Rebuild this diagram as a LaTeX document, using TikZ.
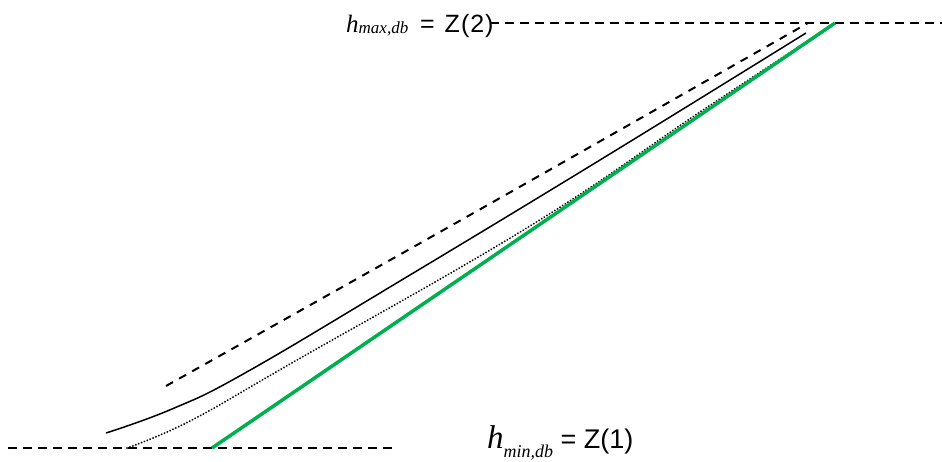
\documentclass[tikz,border=0pt]{standalone}
\usepackage{fontspec}
\setmainfont{Liberation Serif}
\setsansfont{Liberation Sans}
\definecolor{lvlgreen}{RGB}{0,176,80}
\begin{document}
\begin{tikzpicture}[x=1pt,y=-1pt,
  levelline/.style={line width=1.1pt,dash pattern=on 9pt off 6pt},
  curvedash/.style={line width=2pt,dash pattern=on 8pt off 7pt},
  curvesolid/.style={line width=1.5pt},
  curvedot/.style={line width=2pt,line cap=round,dash pattern=on 0.1pt off 3pt},
  greenline/.style={line width=3.5pt,lvlgreen},
  lbl/.style={anchor=base west,inner sep=0pt}]
\useasboundingbox (0,0) rectangle (942,461);
% level lines
\coordinate (tl) at (490,23);
\coordinate (tr) at (942,23);
\coordinate (bl) at (8,448);
\coordinate (br) at (395,448);
\draw[levelline] (tl) -- (tr);
\draw[levelline] (bl) -- (br);
% labels
\node[lbl] (hmax) at (346,32) {{\fontsize{25}{25}\selectfont\itshape h}\raisebox{-1.5pt}{\fontsize{17}{17}\selectfont\itshape max,db}\fontsize{25}{25}\selectfont\sffamily\hspace{5pt}\ =\hspace{3pt}\ Z\hspace{1pt}(\hspace{1pt}2\hspace{1pt})};
\node[lbl] (hmin) at (487,448) {{\fontsize{33}{33}\selectfont\itshape h}\raisebox{-9pt}{\fontsize{18}{18}\selectfont\itshape min,db}\fontsize{27}{27}\selectfont\sffamily\ = Z(1)};
% curves
\draw[curvedash] plot[smooth,tension=0.7] coordinates {(166,386) (470,215) (808,23)};
\draw[curvesolid] plot[smooth,tension=0.7] coordinates {(106,433) (172,409) (245,373) (400,281) (600,160) (806,33)};
\draw[curvedot] plot[smooth,tension=0.7] coordinates {(127,448) (190,421) (290,364) (530,226) (700,112) (835,23)};
% green line
\coordinate (g1) at (212,448);
\coordinate (g2) at (835,23);
\draw[greenline] (g1) -- (g2);
\end{tikzpicture}
\end{document}
